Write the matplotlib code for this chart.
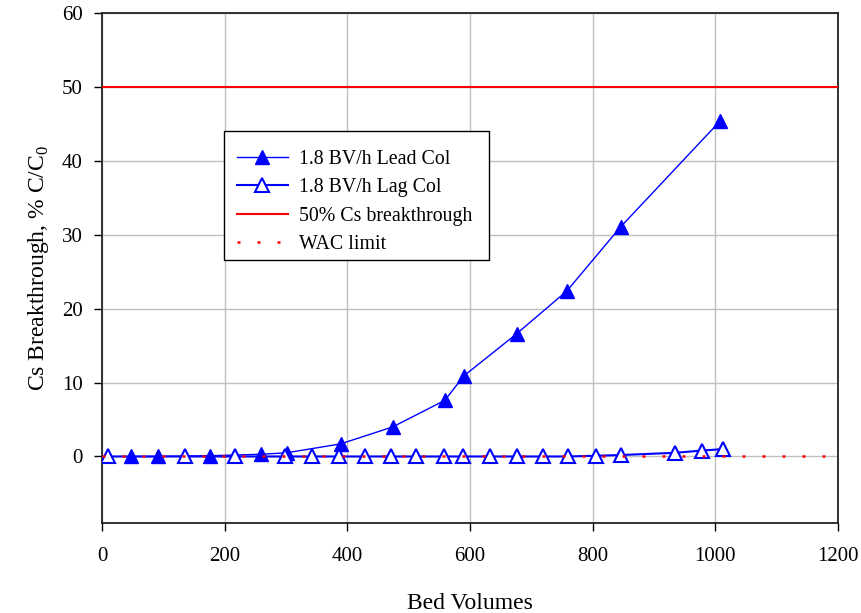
import matplotlib
matplotlib.use("Agg")
import matplotlib.pyplot as plt
from matplotlib.patches import Rectangle

# lead column, 1.8 BV/h
lead_bv = [48, 92, 176, 260, 301, 389, 474, 559, 590, 676, 758, 846, 1008]
lead_pct = [0.0, 0.0, 0.1, 0.3, 0.5, 1.7, 4.0, 7.6, 10.9, 16.6, 22.4, 31.1, 45.4]

# lag column, 1.8 BV/h
lag_bv = [10, 135, 217, 298, 342, 387, 429, 471, 512, 558, 589, 633, 676,
          719, 759, 805, 847, 935, 978, 1013]
lag_pct = [0.0, 0.0, 0.0, 0.0, 0.0, 0.0, 0.0, 0.0, 0.0, 0.0, 0.0, 0.0, 0.0,
           0.0, 0.0, 0.1, 0.2, 0.5, 0.8, 1.0]

breakthrough_x = [0, 1200]
breakthrough_y = [50, 50]
wac_x = [0, 1200]
wac_y = [0.1, 0.1]

x_ticks = [0, 200, 400, 600, 800, 1000, 1200]
y_ticks = [0, 10, 20, 30, 40, 50, 60]

plt.rcParams['font.family'] = ['Liberation Serif', 'DejaVu Serif']
plt.rcParams['mathtext.fontset'] = 'custom'
plt.rcParams['mathtext.rm'] = 'Liberation Serif'

fig = plt.figure(figsize=(8.61, 6.13), dpi=100)
ax = fig.add_axes([102 / 861, 1 - 523 / 613, 736 / 861, 510 / 613])

ax.plot(lead_bv, lead_pct, color='blue', lw=1, marker='^', ms=10,
        mfc='blue', mec='blue', label='1.8 BV/h Lead Col', zorder=4)
ax.plot(lag_bv, lag_pct, color='blue', lw=1.5, marker='^', ms=10,
        mfc='white', mec='blue', mew=1.5, label='1.8 BV/h Lag Col', zorder=5)
ax.plot(breakthrough_x, breakthrough_y, color='red', lw=1.5,
        label='50% Cs breakthrough', zorder=3)
ax.plot(wac_x, wac_y, color='red', lw=1.8, linestyle=(8, (1.2, 6.8)),
        label='WAC limit', zorder=6)

ax.set_xlim(0, 1200)
ax.set_ylim(-9, 60)
ax.set_xticks(x_ticks)
ax.set_yticks(y_ticks)
ax.grid(True, color='#c0c0c0', lw=1)
ax.set_axisbelow(True)
for s in ax.spines.values():
    s.set_color('#222222')
    s.set_linewidth(1.3)
ax.tick_params(direction='out', length=6, width=1, labelsize=15, pad=8)
ax.tick_params(axis='x', pad=11)

ax.set_xlabel('Bed Volumes', fontsize=17, labelpad=20)
ax.set_ylabel(r'Cs Breakthrough, % C/C$_\mathregular{0}$', fontsize=17, labelpad=8)

# legend box drawn separately so the padding matches
box = Rectangle((0.1658, 0.5157), 0.36, 0.2529, transform=ax.transAxes,
                facecolor='white', edgecolor='black', lw=1, zorder=7)
ax.add_patch(box)
leg = ax.legend(loc='upper left', bbox_to_anchor=(0.1658, 0.757), borderaxespad=0,
                fontsize=14.3, frameon=False,
                handlelength=2.55, handletextpad=0.55, labelspacing=0.48,
                borderpad=0.65)
leg.set_zorder(8)

fig.savefig('out.png', dpi=100)
